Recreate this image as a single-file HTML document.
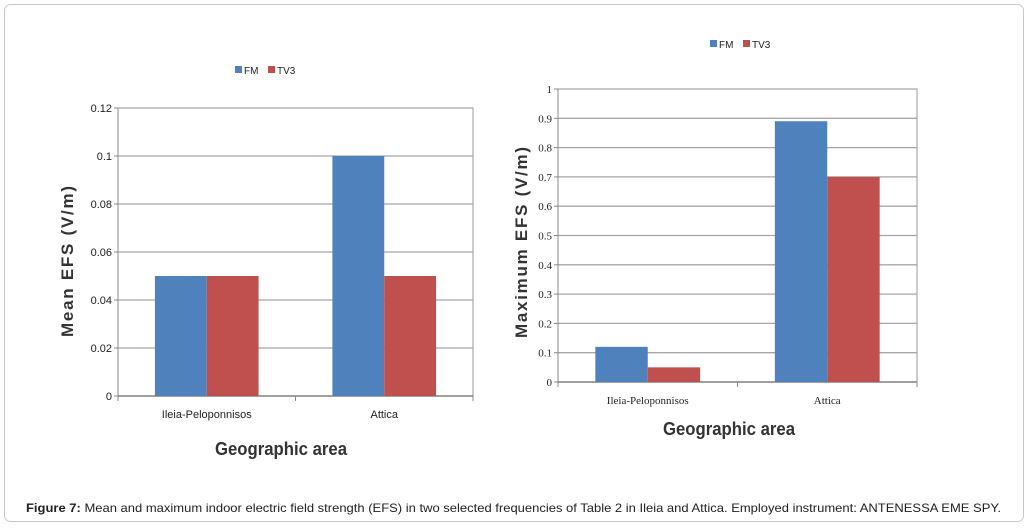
<!DOCTYPE html>
<html><head><meta charset="utf-8"><style>
html,body{margin:0;padding:0;background:#fff;}
svg{display:block;font-family:"Liberation Sans",Arial,sans-serif;}
</style></head><body>
<svg id="svg" width="1029" height="528" viewBox="0 0 1029 528" xmlns="http://www.w3.org/2000/svg">
<rect x="4.5" y="4.5" width="1019" height="517" rx="6" fill="#fff" stroke="#c8c8c8" stroke-width="1"/>
<g id="left"></g>
<g id="right"></g>
<text x="26" y="512" font-size="12" textLength="975" lengthAdjust="spacingAndGlyphs" fill="#222"><tspan font-weight="bold">Figure 7:</tspan> Mean and maximum indoor electric field strength (EFS) in two selected frequencies of Table 2 in Ileia and Attica. Employed instrument: ANTENESSA EME SPY.</text>
</svg>
<script>
const categories = ["Ileia-Peloponnisos", "Attica"];
const meanFM = [0.05, 0.10];
const meanTV3 = [0.05, 0.05];
const meanTicks = [0, 0.02, 0.04, 0.06, 0.08, 0.1, 0.12];
const meanTickLabels = ["0", "0.02", "0.04", "0.06", "0.08", "0.1", "0.12"];
const maxFM = [0.12, 0.89];
const maxTV3 = [0.05, 0.70];
const maxTicks = [0, 0.1, 0.2, 0.3, 0.4, 0.5, 0.6, 0.7, 0.8, 0.9, 1];
const maxTickLabels = ["0", "0.1", "0.2", "0.3", "0.4", "0.5", "0.6", "0.7", "0.8", "0.9", "1"];
const seriesNames = ["FM", "TV3"];

const NS = "http://www.w3.org/2000/svg";
function mk(parent, tag, attrs, text) {
  const e = document.createElementNS(NS, tag);
  for (const k in attrs) e.setAttribute(k, attrs[k]);
  if (text !== undefined) e.textContent = text;
  parent.appendChild(e);
  return e;
}
function drawChart(g, o) {
  const yScale = v => o.bottom - (v / o.max) * (o.bottom - o.top);
  const bandW = (o.right - o.left) / categories.length;
  const xBand = i => o.left + i * bandW;
  mk(g, "rect", {x: o.left, y: o.top, width: o.right - o.left, height: o.bottom - o.top, fill: "#fff", stroke: "#999"});
  o.ticks.forEach((t, i) => {
    const y = yScale(t);
    const gl = mk(g, "line", {x1: o.left, x2: o.right, y1: y, y2: y, stroke: "#a6a6a6", "stroke-width": 1.3});
    
    
    mk(g, "line", {x1: o.left - 4, x2: o.left, y1: y, y2: y, stroke: "#888"});
    const tl = mk(g, "text", {x: o.left - 6, y: y + 4, "text-anchor": "end", "font-size": 11, "font-family": o.tickFont, fill: "#222"}, o.tickLabels[i]);
    
    
  });
  mk(g, "line", {x1: o.left, x2: o.left, y1: o.top, y2: o.bottom, stroke: "#888"});
  mk(g, "line", {x1: o.left, x2: o.right, y1: o.bottom, y2: o.bottom, stroke: "#888", "stroke-width": 1.5});
  for (let i = 0; i <= categories.length; i++) {
    mk(g, "line", {x1: xBand(i), x2: xBand(i), y1: o.bottom, y2: o.bottom + 5, stroke: "#888"});
  }
  const barW = bandW * 0.292;
  categories.forEach((c, i) => {
    const cx = xBand(i) + bandW / 2;
    const b1 = mk(g, "rect", {x: cx - barW, y: yScale(o.fm[i]), width: barW, height: o.bottom - yScale(o.fm[i]), fill: "#4f81bd"});
    
    
    const b2 = mk(g, "rect", {x: cx, y: yScale(o.tv[i]), width: barW, height: o.bottom - yScale(o.tv[i]), fill: "#c0504d"});
    
    
    const xl = mk(g, "text", {x: cx, y: o.bottom + 22, "text-anchor": "middle", "font-size": 11, "font-family": o.tickFont, fill: "#222"}, c);
    
    
  });
  const xt = mk(g, "text", {x: o.xTitleX, y: o.xTitleY, "text-anchor": "middle", "font-size": 18, "font-weight": "bold", fill: "#333", textLength: 132, lengthAdjust: "spacingAndGlyphs"}, "Geographic area");
  
  
  const cy = o.yTitleCY;
  const yt = mk(g, "text", {x: o.yTitleX, y: cy, "text-anchor": "middle", "font-size": 17, "font-weight": "bold", fill: "#333", "letter-spacing": 1, textLength: o.yTitleLen, lengthAdjust: "spacing", transform: `rotate(-90 ${o.yTitleX} ${cy})`}, o.yTitle);
  
  
  const colors = ["#4f81bd", "#c0504d"];
  seriesNames.forEach((s, i) => {
    const lx = o.legendX + i * o.legendStep;
    const sw = mk(g, "rect", {x: lx, y: o.legendY - 8, width: 7, height: 7, fill: colors[i]});
    
    
    const lt = mk(g, "text", {x: lx + 9, y: o.legendY, "font-size": 10, fill: "#222"}, s);
    
    
  });
}
drawChart(document.getElementById("left"), {
  left: 118, right: 473, top: 108, bottom: 396, max: 0.12,
  ticks: meanTicks, tickLabels: meanTickLabels, fm: meanFM, tv: meanTV3,
  tickFont: "Liberation Sans", xTitleX: 281, xTitleY: 455, yTitleX: 73, yTitleCY: 261, yTitleLen: 152, yTitle: "Mean EFS (V/m)",
  legendX: 235, legendY: 74, legendStep: 33
});
drawChart(document.getElementById("right"), {
  left: 558, right: 917, top: 89, bottom: 382, max: 1,
  ticks: maxTicks, tickLabels: maxTickLabels, fm: maxFM, tv: maxTV3,
  tickFont: "Liberation Serif", xTitleX: 729, xTitleY: 435, yTitleX: 527, yTitleCY: 242, yTitleLen: 192, yTitle: "Maximum EFS (V/m)",
  legendX: 710, legendY: 48, legendStep: 33
});
</script>
</body></html>
